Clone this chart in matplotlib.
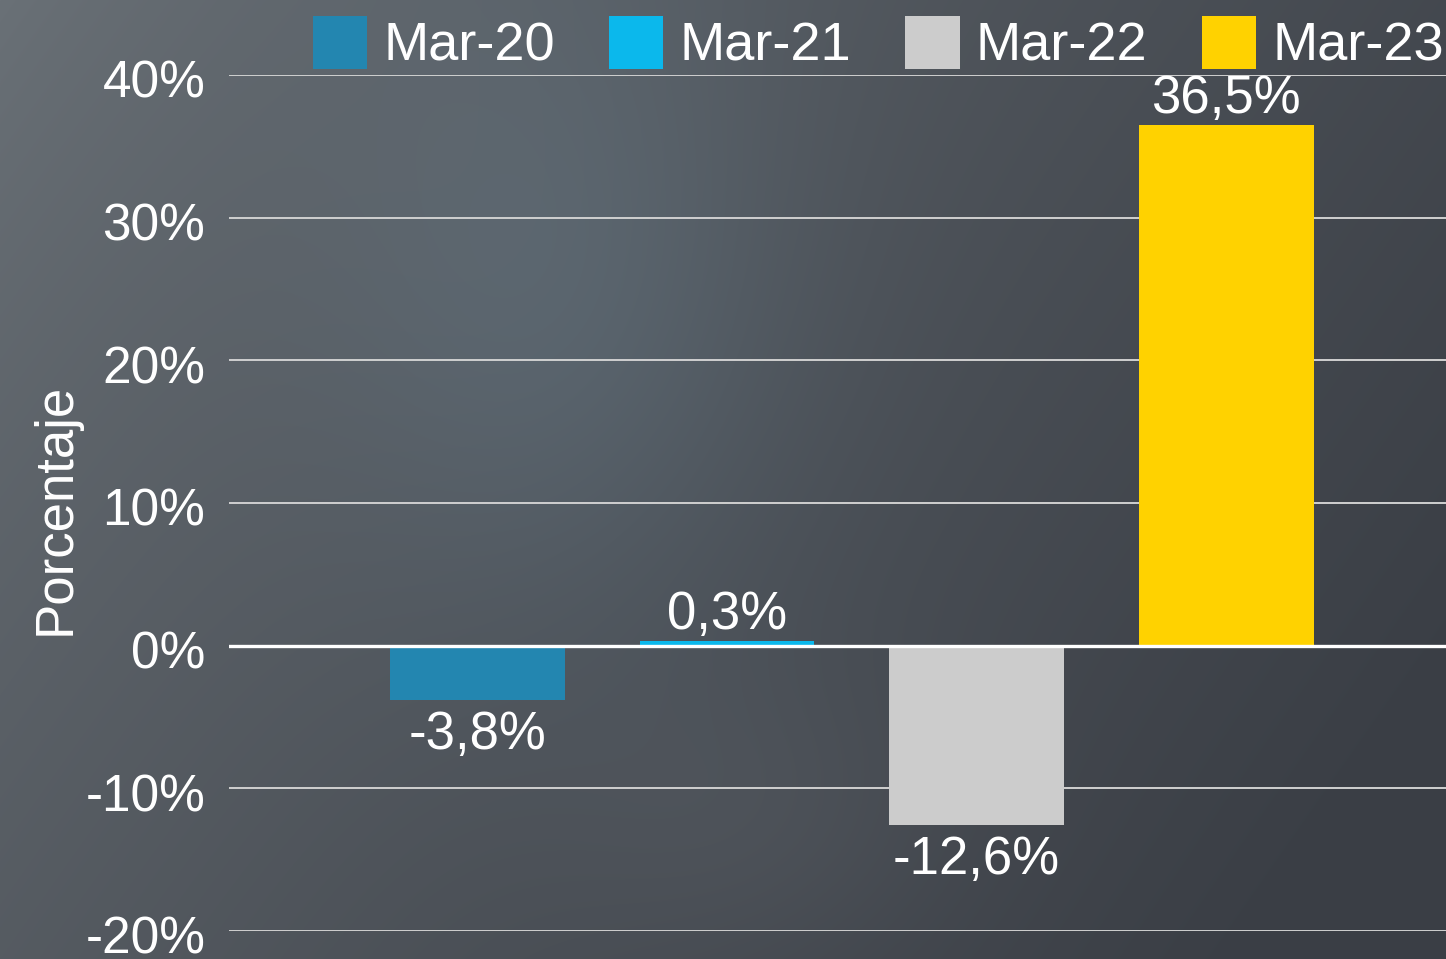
import numpy as np
import matplotlib
matplotlib.use("Agg")
import matplotlib.pyplot as plt
from matplotlib.transforms import ScaledTranslation

# data
series = ["Mar-20", "Mar-21", "Mar-22", "Mar-23"]
values = [-3.8, 0.3, -12.6, 36.5]
labels = ["-3,8%", "0,3%", "-12,6%", "36,5%"]
colors = ["#2386b0", "#0bb8ec", "#cccccc", "#ffd200"]
yticks = [-20, -10, 0, 10, 20, 30, 40]

plt.rcParams["font.family"] = ["Liberation Sans", "DejaVu Sans"]

W, H = 1446, 959
fig = plt.figure(figsize=(W / 100, H / 100), dpi=100)

# background gradient (light top-left, darker right, soft highlight)
bg = fig.add_axes([0, 0, 1, 1], zorder=-10)
yy, xx = np.mgrid[0:H, 0:W]
t = np.clip(xx / W * 0.75 + yy / H * 0.35, 0, 1) ** 0.8
light = np.array([106, 113, 119]) / 255
dark = np.array([58, 62, 69]) / 255
img = light[None, None, :] * (1 - t[..., None]) + dark[None, None, :] * t[..., None]
spot = np.exp(-(((xx - 560) / 230) ** 2 + ((yy - 300) / 320) ** 2))
img = img + spot[..., None] * np.array([0.03, 0.05, 0.06])
spot2 = np.exp(-(((xx - 760) / 200) ** 2 + ((yy - 820) / 150) ** 2))
img = img + spot2[..., None] * 0.025
bg.imshow(np.clip(img, 0, 1), aspect="auto", extent=[0, 1, 0, 1])
bg.axis("off")

ax = fig.add_axes([229 / W, 28 / H, 1 - 229 / W, (931 - 75) / H])
ax.set_facecolor("none")
for s in ax.spines.values():
    s.set_visible(False)

x = np.arange(len(series))
for i, (name, v, c) in enumerate(zip(series, values, colors)):
    ax.bar(x[i], v, width=0.70, color=c, label=name, zorder=3)

for i, (v, lab) in enumerate(zip(values, labels)):
    if v >= 0:
        ax.annotate(lab, (x[i], v), xytext=(0, 1), textcoords="offset points",
                    ha="center", va="bottom", color="white", fontsize=38, zorder=5)
    else:
        ax.annotate(lab, (x[i], v), xytext=(0, -7), textcoords="offset points",
                    ha="center", va="top", color="white", fontsize=38, zorder=5)

ax.set_xlim(-0.995, 3.88)
ax.set_ylim(-20, 40)
ax.set_yticks(yticks)
ax.set_yticklabels([f"{t}%" for t in yticks])
ax.set_xticks([])
ax.tick_params(axis="y", length=0, pad=17, labelsize=37, labelcolor="white")
shift = ScaledTranslation(0, -4 / 100, fig.dpi_scale_trans)
for lab in ax.get_yticklabels():
    lab.set_transform(lab.get_transform() + shift)
for t in yticks:
    if t == 0:
        ax.axhline(t, color="white", lw=2.4, zorder=4)
    else:
        ax.axhline(t, color="#d0d0d0", lw=1.4, zorder=1)

ax.set_ylabel("Porcentaje", fontsize=38, color="white")
ax.yaxis.set_label_coords(-0.122, 0.493)

fig.legend(loc="upper left", bbox_to_anchor=(313 / W, 1 - 16 / H), ncol=4,
           frameon=False, fontsize=39, handlelength=1.0, handleheight=1.12,
           handletextpad=0.3, columnspacing=1.0, borderpad=0, labelcolor="white",
           borderaxespad=0)

fig.savefig("out.png", dpi=100)
